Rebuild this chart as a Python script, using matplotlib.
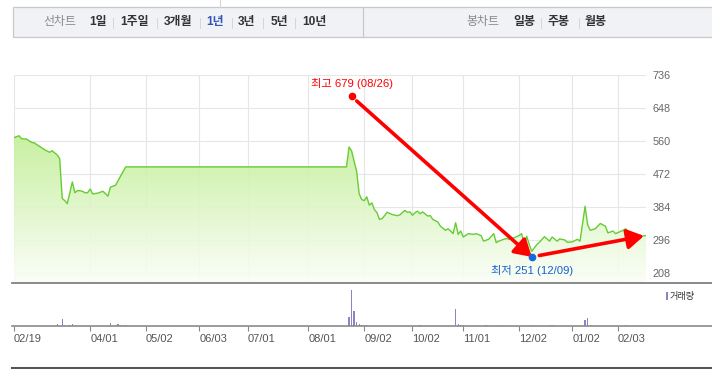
import numpy as np
import matplotlib
matplotlib.use('Agg')
import matplotlib.pyplot as plt
from matplotlib.colors import LinearSegmentedColormap
from matplotlib.lines import Line2D
from matplotlib.patches import Rectangle
from matplotlib.transforms import Affine2D

plt.rcParams['font.family'] = ['Liberation Sans', 'Noto Sans CJK KR']

# trading-day index (0 = 02/19) and closing price
days = [0, 2, 3, 5, 7, 8, 10, 12, 14, 15, 17, 18, 19, 20, 21, 23, 24, 25, 27, 28,
        29, 30, 31, 33, 35, 36, 37, 38, 40, 44, 131, 132, 133, 134, 135, 136, 137, 138, 139, 140,
        141, 142, 143, 144, 145, 146, 147, 149, 151, 152, 154, 155, 156, 157, 158, 159, 160, 161, 163, 164,
        165, 167, 168, 170, 171, 172, 173, 174, 175, 176, 177, 179, 181, 182, 184, 185, 187, 189, 190, 191,
        193, 194, 195, 197, 199, 200, 201, 202, 203, 204, 206, 207, 209, 211, 212, 214, 215, 217, 218, 220,
        222, 223, 225, 226, 227, 229, 231, 233, 234, 236, 237, 238, 240, 241, 243, 244, 246, 247, 249]
close = [569, 574, 566, 565, 556, 555, 546, 537, 530, 534, 523, 513, 407, 401, 393, 451, 422, 428, 426, 422,
         422, 432, 419, 421, 426, 420, 413, 437, 442, 491, 491, 544, 534, 506, 479, 419, 404, 401, 411, 389,
         395, 377, 369, 351, 353, 361, 370, 364, 361, 363, 375, 370, 371, 362, 369, 373, 366, 371, 360, 361,
         351, 344, 333, 322, 326, 320, 313, 342, 311, 320, 304, 313, 311, 313, 308, 293, 298, 313, 289, 293,
         298, 300, 298, 302, 308, 313, 284, 306, 284, 266, 284, 290, 305, 293, 304, 293, 299, 296, 290, 291,
         298, 293, 386, 337, 322, 326, 340, 333, 315, 320, 313, 316, 322, 326, 311, 306, 299, 306, 308]

vol_days = [17, 19, 20, 22, 23, 38, 41, 42, 43, 44, 132, 133, 134, 135, 136, 137, 138, 139,
            160, 174, 175, 176, 177, 186, 192, 204, 212, 225, 226, 227, 241]
volume = [92, 292, 52, 52, 92, 132, 80, 40, 52, 52, 372, 1452, 612, 172, 92, 40, 52, 52,
          52, 692, 92, 52, 52, 40, 52, 52, 40, 228, 308, 52, 52]

tick_days = [0, 30, 52, 73, 92, 116, 138, 157, 177, 199, 220, 238]
tick_labels = ['02/19', '04/01', '05/02', '06/03', '07/01', '08/01',
               '09/02', '10/02', '11/01', '12/02', '01/02', '02/03']
price_ticks = [208, 296, 384, 472, 560, 648, 736]

high_day, high_val, high_date = 133, 679, '08/26'
low_day, low_val, low_date = 204, 251, '12/09'

left_items = ['1일', '1주일', '3개월', '1년', '3년', '5년', '10년']
right_items = ['일봉', '주봉', '월봉']

W, H = 712, 369
fig = plt.figure(figsize=(W / 100, H / 100), dpi=100)
px = Affine2D().scale(1 / W, -1 / H).translate(0, 1) + fig.transFigure

# ---- header bar
fig.add_artist(Line2D([220, 220], [0, 7], transform=px, color='#d6d6d6', lw=0.8))
fig.add_artist(Rectangle((12.5, 7), 705, 30, transform=px, facecolor='#f1f2f6',
                         edgecolor='#c8c8c8', lw=0.9))
fig.add_artist(Line2D([363, 363], [7, 37], transform=px, color='#c8c8c8', lw=0.9))

hdr = 8.6
fig.text(60, 22.5, '선차트', transform=px, ha='center', va='center', fontsize=hdr, color='#8a8a8a')
left_x = [98, 135, 178, 215, 247, 279, 314]
left_sep = [113, 157, 200, 232, 263, 295]
for lab, x in zip(left_items, left_x):
    c = '#3553b5' if lab == '1년' else '#333333'
    fig.text(x, 22.5, lab, transform=px, ha='center', va='center', fontsize=hdr,
             fontweight='bold', color=c)
for sx in left_sep:
    fig.add_artist(Line2D([sx, sx], [17.5, 27.5], transform=px, color='#d6d6d6', lw=0.7))

fig.text(483, 22.5, '봉차트', transform=px, ha='center', va='center', fontsize=hdr, color='#8a8a8a')
right_x = [524, 559, 595]
for lab, x in zip(right_items, right_x):
    fig.text(x, 22.5, lab, transform=px, ha='center', va='center', fontsize=hdr,
             fontweight='bold', color='#333333')
for sx in [541, 579]:
    fig.add_artist(Line2D([sx, sx], [17.5, 27.5], transform=px, color='#d6d6d6', lw=0.7))

# ---- price panel
ax = fig.add_axes([14 / W, (H - 283) / H, 632 / W, 208 / H])
ymin = 181.4
ax.set_xlim(0, 249)
ax.set_ylim(ymin, 736)
for s in ax.spines.values():
    s.set_visible(False)

for yt in price_ticks:
    ax.axhline(yt, color='#e6e6e6', lw=0.8, zorder=0)
for td in tick_days:
    ax.axvline(td, color='#e6e6e6', lw=0.8, zorder=0)

poly = ax.fill_between(days, close, ymin, facecolor='none', edgecolor='none')
cmap = LinearSegmentedColormap.from_list('g', ['#fbfef8', '#c0ee93'])
grad = np.linspace(0, 1, 256).reshape(-1, 1)
im = ax.imshow(grad, extent=[0, 249, ymin, 590], origin='lower', aspect='auto',
               cmap=cmap, alpha=0.9, zorder=1)
im.set_clip_path(poly.get_paths()[0], transform=ax.transData)
ax.set_ylim(ymin, 736)
ax.plot(days, close, color='#66cc33', lw=1.0, zorder=4)

ax.annotate('', xy=(low_day, low_val), xytext=(high_day, high_val),
            arrowprops=dict(arrowstyle='-|>,head_length=10,head_width=6', mutation_scale=1,
                            color='#ff0000', lw=2.6, shrinkA=5, shrinkB=0), zorder=5)
ax.annotate('', xy=(days[-1], close[-1]), xytext=(low_day, low_val),
            arrowprops=dict(arrowstyle='-|>,head_length=10,head_width=6', mutation_scale=1,
                            color='#ff0000', lw=2.6, shrinkA=5.5, shrinkB=1.5), zorder=5)

ax.plot(high_day, high_val, 'o', color='#ff0000', ms=4.5, zorder=6)
ax.plot(low_day, low_val, 'o', color='#1a66dd', ms=4.5, zorder=6)
ax.annotate(f'최고 {high_val} ({high_date})', (high_day, high_val), xytext=(0, 9.5),
            textcoords='offset points', ha='center', va='center', fontsize=8.1,
            color='#ff0000', annotation_clip=False)
ax.annotate(f'최저 {low_val} ({low_date})', (low_day, low_val), xytext=(0, -9.5),
            textcoords='offset points', ha='center', va='center', fontsize=8.1,
            color='#1560d0', annotation_clip=False)

ax.set_xticks([])
ax.yaxis.tick_right()
ax.set_yticks(price_ticks)
ax.tick_params(axis='y', length=0, pad=4.8, labelsize=7.8, labelcolor='#666666')

# ---- volume panel
vax = fig.add_axes([14 / W, (H - 326) / H, 632 / W, 43 / H])
vax.bar(vol_days, volume, width=0.5, color='#9080c4', lw=0)
vax.set_xlim(0, 249)
vax.set_ylim(0, max(volume) * 43 / 36)
for s in vax.spines.values():
    s.set_visible(False)
vax.set_yticks([])
vax.set_xticks(tick_days)
vax.set_xticklabels(tick_labels, ha='left')
vax.tick_params(axis='x', direction='out', length=3.6, width=0.8, color='#888888',
                labelsize=8, labelcolor='#555555', pad=2)

fig.add_artist(Rectangle((666, 292), 2, 8, transform=px, facecolor='#9080c4', lw=0))
fig.text(670, 296, '거래량', transform=px, ha='left', va='center', fontsize=6.6, color='#333333')

# ---- separators
fig.add_artist(Line2D([12, 712], [283, 283], transform=px, color='#808080', lw=1.3))
fig.add_artist(Line2D([12, 712], [326.3, 326.3], transform=px, color='#8a8a8a', lw=1.2))
fig.add_artist(Line2D([12, 712], [367.5, 367.5], transform=px, color='#555555', lw=2.2))

fig.savefig('out.png', dpi=100)
